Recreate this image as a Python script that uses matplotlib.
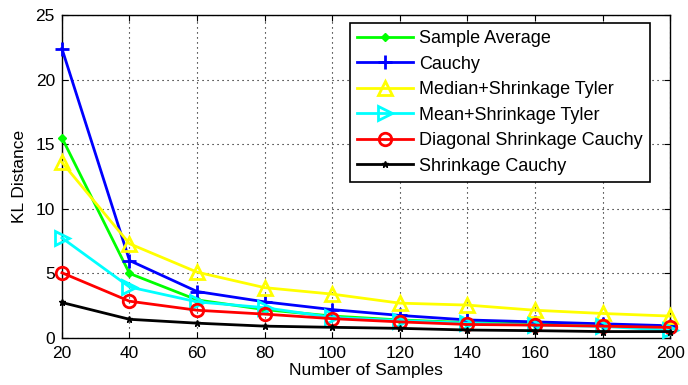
import matplotlib
matplotlib.use("Agg")
import matplotlib.pyplot as plt

plt.rcParams['font.family'] = ['Liberation Sans', 'DejaVu Sans']

# Données
n_samples = [20, 40, 60, 80, 100, 120, 140, 160, 180, 200]
sample_average = [15.5, 5.0, 2.95, 2.2, 1.7, 1.4, 1.2, 1.1, 1.0, 0.9]
cauchy = [22.4, 6.0, 3.6, 2.8, 2.2, 1.75, 1.4, 1.25, 1.1, 0.95]
median_tyler = [13.6, 7.3, 5.1, 3.9, 3.4, 2.7, 2.55, 2.15, 1.9, 1.7]
mean_tyler = [7.75, 3.95, 2.8, 2.35, 1.6, 1.35, 1.15, 1.0, 0.9, 0.6]
diag_cauchy = [5.05, 2.85, 2.15, 1.85, 1.5, 1.25, 1.05, 1.0, 0.92, 0.82]
shrink_cauchy = [2.75, 1.45, 1.15, 0.92, 0.83, 0.75, 0.62, 0.57, 0.5, 0.5]

fig = plt.figure(figsize=(6.88, 3.85), dpi=100)
ax = fig.add_axes([0.090, 0.122, 0.884, 0.839])

lw = 2
kw = dict(lw=lw, clip_on=False, zorder=3)
ax.plot(n_samples, sample_average, color='#00ff00', marker='D', markersize=4, label='Sample Average', **kw)
ax.plot(n_samples, cauchy, color='#0000ff', marker='+', markersize=10, mew=2, label='Cauchy', **kw)
ax.plot(n_samples, median_tyler, color='#ffff00', marker='^', markersize=10, mfc='none', mew=2, label='Median+Shrinkage Tyler', **kw)
ax.plot(n_samples, mean_tyler, color='#00ffff', marker='>', markersize=10, mfc='none', mew=2, label='Mean+Shrinkage Tyler', **kw)
ax.plot(n_samples, diag_cauchy, color='#ff0000', marker='o', markersize=9, mfc='none', mew=2, label='Diagonal Shrinkage Cauchy', **kw)
ax.plot(n_samples, shrink_cauchy, color='#000000', marker='*', markersize=5, label='Shrinkage Cauchy', **kw)

ax.set_xlim(20, 200)
ax.set_ylim(0, 25)
ax.set_xticks(n_samples)
ax.set_yticks([0, 5, 10, 15, 20, 25])
ax.tick_params(direction='in', labelsize=12.5, top=True, right=True, length=4)
ax.tick_params(axis='x', pad=6)
ax.tick_params(axis='y', pad=5)
ax.grid(True, linestyle=(0, (1, 3.5)), color='black', linewidth=0.8)
ax.set_xlabel('Number of Samples', fontsize=12.5, labelpad=1)
ax.set_ylabel('KL Distance', fontsize=12.5, labelpad=6)
for s in ax.spines.values():
    s.set_linewidth(1)

leg = ax.legend(loc='upper right', bbox_to_anchor=(0.967, 0.975), borderaxespad=0,
                fontsize=13, fancybox=False, framealpha=1, edgecolor='black',
                handlelength=3.1, handletextpad=0.35, borderpad=0.4, labelspacing=0.47)
leg.get_frame().set_linewidth(1.2)
leg.set_zorder(5)

fig.savefig('out.png', dpi=100)
